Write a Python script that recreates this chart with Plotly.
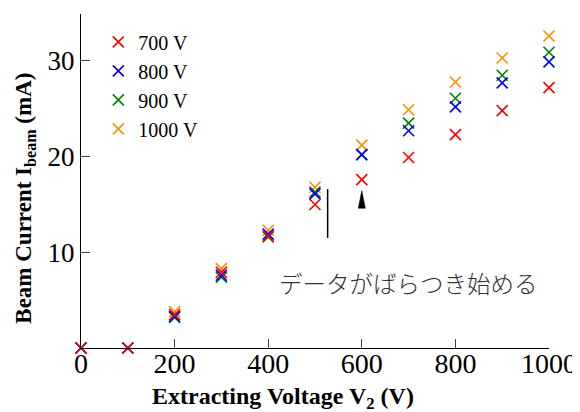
import plotly.graph_objects as go

# Extracting voltage V2 (V)
voltage = [0, 100, 200, 300, 400, 500, 600, 700, 800, 900, 1000]

# Beam current (mA) for each V1 setting
i_700 = [0, 0, 3.5, 7.9, 11.7, 15.0, 17.6, 19.9, 22.3, 24.8, 27.2]
i_800 = [0, 0, 3.3, 7.6, 11.9, 16.1, 20.2, 22.7, 25.2, 27.7, 29.9]
i_900 = [0, 0, 3.2, 7.4, 11.6, 16.3, 20.2, 23.5, 26.1, 28.5, 30.9]
i_1000 = [0, 0, 3.8, 8.3, 12.3, 16.8, 21.2, 24.9, 27.8, 30.3, 32.6]

series_names = ["700 V", "800 V", "900 V", "1000 V"]
series_colors = ["#ff0000", "#0000ff", "#008000", "#ff8c00"]
series_values = [i_700, i_800, i_900, i_1000]

x_ticks = [0, 200, 400, 600, 800, 1000]
y_ticks = [10, 20, 30]

note_text = "データがばらつき始める"
note_x, note_y = 700, 6.8
bar_x, bar_y0, bar_y1 = 527, 11.5, 16.6
arrow_x, arrow_base, arrow_tip, arrow_halfw = 600, 14.6, 16.45, 7.5

SERIF = "Liberation Serif, Times New Roman, serif"
PAGE_OFFSET = 8  # default body margin of the html page

fig = go.Figure()
# draw 1000 V first so that 700 V ends up on top
for name, color, vals in reversed(list(zip(series_names, series_colors, series_values))):
    fig.add_trace(go.Scatter(
        x=voltage, y=vals, mode="markers", name=name, legendgroup=name, cliponaxis=False,
        marker=dict(symbol="x-thin", size=11, line=dict(color=color, width=1.6), color=color),
    ))

fig.add_shape(type="line", x0=bar_x, x1=bar_x, y0=bar_y0, y1=bar_y1,
              xref="x", yref="y", line=dict(color="black", width=1.5))
fig.add_shape(type="path", xref="x", yref="y",
              path=f"M {arrow_x - arrow_halfw},{arrow_base} L {arrow_x + arrow_halfw},{arrow_base} L {arrow_x},{arrow_tip} Z",
              fillcolor="black", line=dict(color="black", width=0.5))

fig.add_annotation(x=note_x, y=note_y, xref="x", yref="y", text=note_text, showarrow=False,
                   font=dict(family="Noto Sans CJK JP", size=23.5, color="#333333", weight=300))

fig.add_annotation(x=0.432, y=0, xref="paper", yref="paper", yshift=-50, yanchor="middle",
                   text="<b>Extracting Voltage V<sub>2</sub> (V)</b>", showarrow=False,
                   font=dict(family=SERIF, size=24, color="black"))
fig.add_annotation(x=0, y=0.447, xref="paper", yref="paper", xshift=-56, xanchor="center",
                   textangle=-90, text="<b>Beam Current I<sub>beam</sub> (mA)</b>", showarrow=False,
                   font=dict(family=SERIF, size=23, color="black"))

fig.update_layout(
    width=580 - PAGE_OFFSET, height=412 - PAGE_OFFSET,
    margin=dict(l=81 - PAGE_OFFSET, r=31, t=14 - PAGE_OFFSET, b=64, autoexpand=False),
    paper_bgcolor="white", plot_bgcolor="white",
    font=dict(family=SERIF, color="black"),
    showlegend=True,
    legend=dict(x=0.037, y=0.975, xanchor="left", yanchor="top", traceorder="reversed",
                font=dict(family=SERIF, size=20, color="black"), bgcolor="rgba(0,0,0,0)",
                tracegroupgap=5, itemwidth=30),
    xaxis=dict(range=[0, 1000], tickvals=x_ticks, ticks="inside", ticklen=9, tickwidth=1.3,
               showline=True, linecolor="black", linewidth=1.3, showgrid=False, zeroline=False,
               automargin=False, ticklabelstandoff=-10,
               tickfont=dict(family=SERIF, size=28, color="black")),
    yaxis=dict(range=[0, 34.9], tickvals=y_ticks, ticks="inside", ticklen=9, tickwidth=1.3,
               showline=True, linecolor="black", linewidth=1.3, showgrid=False, zeroline=False,
               automargin=False, tickfont=dict(family=SERIF, size=27, color="black")),
)

fig.write_html("out.html")
